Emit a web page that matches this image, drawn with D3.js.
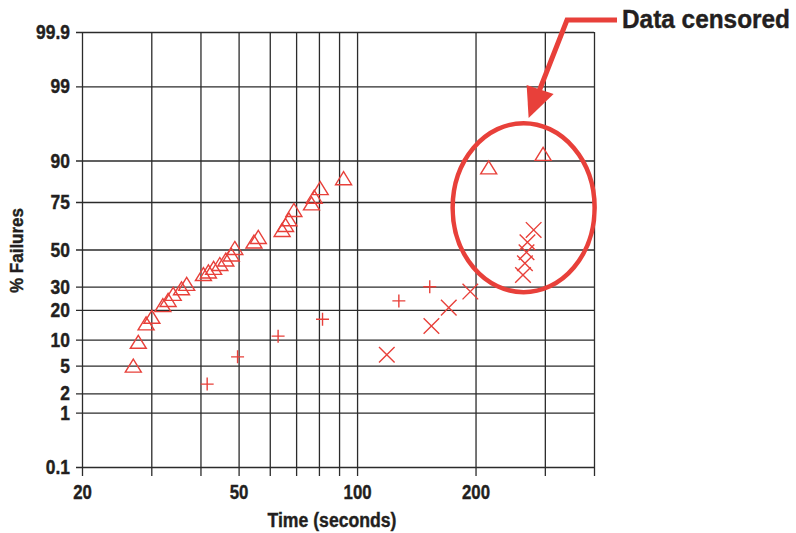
<!DOCTYPE html>
<html>
<head>
<meta charset="utf-8">
<script src="https://cdn.jsdelivr.net/npm/d3@7"></script>
<style>
  body { margin: 0; background: #fff; }
  text { font-family: "Liberation Sans", Arial, sans-serif; font-weight: bold; fill: #231f20;
         stroke: #231f20; stroke-width: 0.4px; }
</style>
</head>
<body>
<div id="chart"></div>
<script>
// gridlines / tick labels
var xGrid = [20, 30, 40, 50, 60, 70, 80, 90, 100, 200, 300, 400];
var xLabels = [20, 50, 100, 200];
var yTicks = [0.1, 1, 2, 5, 10, 20, 30, 50, 75, 90, 99, 99.9];

// triangles
var triTime = [27.0, 27.8, 29.1, 30.1, 32.1, 33.1, 34.1, 35.8, 36.9, 40.7, 41.9, 43.2, 44.8, 46.4,
               47.9, 48.9, 54.7, 56.1, 64.5, 65.8, 67.1, 69.1, 76.6, 77.8, 80.6, 92.4, 216, 297];
var triPct  = [5.0, 9.6, 15.5, 17.7, 22.1, 24.3, 26.9, 29.3, 31.5, 36.8, 38.2, 40.1, 42.2, 44.6,
               47.3, 50.8, 54.2, 56.6, 60.3, 62.9, 65.9, 70.8, 74.3, 76.9, 80.0, 83.6, 87.5, 90.8];
// plus signs
var plusTime = [41.6, 49.7, 63.0, 81.7, 127.7, 153];
var plusPct  = [3.0, 6.7, 11.2, 16.9, 23.9, 30.0];
// crosses
var crossTime = [119, 154.5, 171, 194, 264, 267, 269.5, 271, 281];
var crossPct  = [7.1, 14.6, 21.0, 27.9, 36.3, 42.6, 48.5, 53.8, 60.3];

var red = "#e8403a";
var margin = {top: 32, left: 82, right: 202, bottom: 66},
    width = 796 - margin.left - margin.right,
    height = 533 - margin.top - margin.bottom;

// condensed look: squeeze the glyphs horizontally
function squeeze(sel, k, w) {
    sel.each(function () {
        var len = w || this.getComputedTextLength() * k;
        d3.select(this).attr("textLength", len).attr("lengthAdjust", "spacingAndGlyphs");
    });
}

var svg = d3.select("#chart").append("svg")
    .attr("width", 796)
    .attr("height", 533)
  .append("g")
    .attr("transform", "translate(" + margin.left + "," + margin.top + ")");

var x = d3.scaleLog().domain([20, 400]).range([0, width]);

// probability paper: piecewise scale between the printed ticks
var yFrac = [1, 0.875, 0.8306, 0.767, 0.7074, 0.639, 0.5855, 0.5, 0.3908, 0.2954, 0.1248, 0];
var y = d3.scaleLinear().domain(yTicks).range(yFrac.map(function (f) { return f * height; }));

var xAxis = svg.append("g")
    .attr("transform", "translate(0," + height + ")")
    .call(d3.axisBottom(x).tickValues(xGrid).tickSize(9).tickPadding(8)
        .tickFormat(function (d) { return xLabels.indexOf(d) >= 0 ? d : ""; }));
xAxis.select(".domain").remove();
xAxis.selectAll(".tick line").attr("y1", -height).attr("stroke", "#2b2b2b").attr("stroke-width", 1.3);
xAxis.attr("font-family", null).attr("font-size", null);
xAxis.selectAll("text").style("font-size", "20.5px").call(squeeze, 0.82);

var yAxis = svg.append("g")
    .call(d3.axisLeft(y).tickValues(yTicks).tickSize(6).tickPadding(6)
        .tickFormat(function (d) { return d; }));
yAxis.select(".domain").remove();
yAxis.selectAll(".tick line").attr("x2", width).attr("x1", -6).attr("stroke", "#2b2b2b").attr("stroke-width", 1.3);
yAxis.attr("font-family", null).attr("font-size", null);
yAxis.selectAll("text").style("font-size", "20.5px").call(squeeze, 0.85);

svg.append("text")
    .attr("transform", "translate(" + (-59) + "," + (height / 2 + 1) + ") rotate(-90)")
    .attr("text-anchor", "middle")
    .style("font-size", "19px")
    .text("% Failures")
    .call(squeeze, 1, 85);

svg.append("text")
    .attr("x", width / 2 - 6)
    .attr("y", height + 60)
    .attr("text-anchor", "middle")
    .style("font-size", "20px")
    .text("Time (seconds)")
    .call(squeeze, 1, 129);

// markers
var tri = "M0,-6.5L8,6.5L-8,6.5Z";
svg.selectAll(".tri")
    .data(triTime)
    .enter().append("path")
    .attr("class", "tri")
    .attr("d", tri)
    .attr("transform", function (d, i) { return "translate(" + x(d) + "," + y(triPct[i]) + ")"; })
    .attr("fill", "none")
    .attr("stroke", red)
    .attr("stroke-width", 1.4);

svg.selectAll(".plus")
    .data(plusTime)
    .enter().append("path")
    .attr("class", "plus")
    .attr("d", "M-6.5,0H6.5M0,-6.5V6.5")
    .attr("transform", function (d, i) { return "translate(" + x(d) + "," + y(plusPct[i]) + ")"; })
    .attr("stroke", red)
    .attr("stroke-width", 1.4);

svg.selectAll(".cross")
    .data(crossTime)
    .enter().append("path")
    .attr("class", "cross")
    .attr("d", "M-7.8,-7.8L7.8,7.8M-7.8,7.8L7.8,-7.8")
    .attr("transform", function (d, i) { return "translate(" + x(d) + "," + y(crossPct[i]) + ")"; })
    .attr("stroke", red)
    .attr("stroke-width", 1.4);

// censored annotation
svg.append("ellipse")
    .attr("cx", x(265))
    .attr("cy", y(72))
    .attr("rx", 71)
    .attr("ry", 84.5)
    .attr("fill", "none")
    .attr("stroke", red)
    .attr("stroke-width", 4.5);

var tip = [x(265) + 5, -32 + 118];
svg.append("path")
    .attr("d", "M" + (617 - margin.left) + "," + (20 - margin.top) + "H" + (567 - margin.left) +
               "L" + (tip[0] + 7) + "," + (tip[1] - 18))
    .attr("fill", "none")
    .attr("stroke", red)
    .attr("stroke-width", 5);
svg.append("path")
    .attr("d", "M" + tip[0] + "," + tip[1] +
               "L" + (tip[0] - 2) + "," + (tip[1] - 33) +
               "L" + (tip[0] + 25) + "," + (tip[1] - 24) + "Z")
    .attr("fill", red);

svg.append("text")
    .attr("x", 622 - margin.left)
    .attr("y", 28 - margin.top)
    .style("font-size", "25px")
    .text("Data censored")
    .call(squeeze, 1, 168);
</script>
</body>
</html>
